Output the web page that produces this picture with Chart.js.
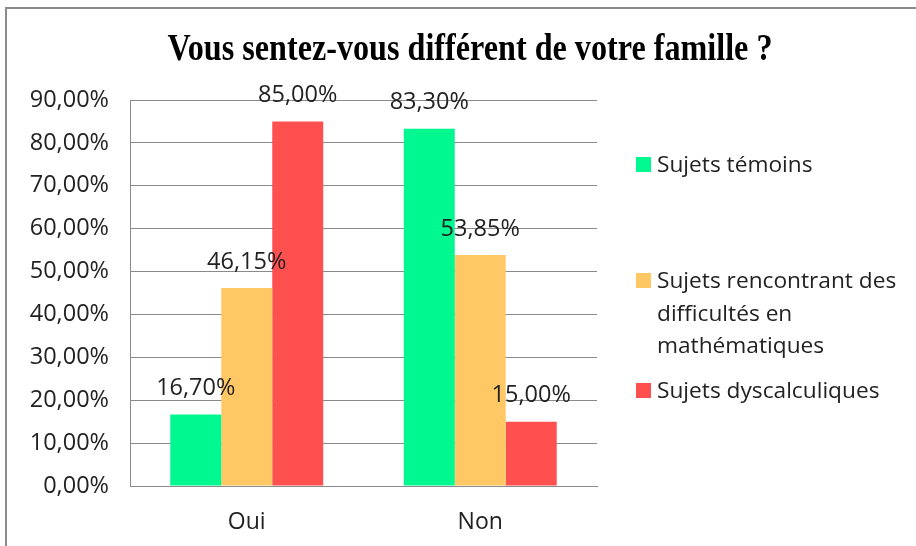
<!DOCTYPE html>
<html lang="fr">
<head>
  <meta charset="UTF-8" />
  <title>Vous sentez-vous différent de votre famille ?</title>
  <script src="https://cdn.jsdelivr.net/npm/chart.js"></script>
  <style>
    body {
      margin: 0;
      background: #ffffff;
      font-family: "Open Sans", sans-serif;
      overflow: hidden;
    }
    .wrap {
      position: relative;
      width: 916px;
      height: 546px;
    }
    .frame {
      position: absolute;
      left: 5px;
      top: 7px;
      width: 1000px;
      height: 700px;
      border-left: 2px solid #8a8a8a;
      border-top: 2px solid #8a8a8a;
    }
    canvas {
      position: absolute;
      left: 0;
      top: 0;
    }
    #legend {
      position: absolute;
      left: 636px;
      top: 0;
      width: 278px;
      color: #222;
      font-size: 22.7px;
      line-height: 32.5px;
    }
    .item {
      position: absolute;
      left: 0;
      display: flex;
      align-items: flex-start;
      white-space: nowrap;
    }
    .box {
      width: 15px;
      height: 15px;
      margin-top: 9px;
      margin-right: 6px;
      flex: none;
    }
  </style>
</head>
<body>
<div class="wrap">
  <div class="frame"></div>
  <canvas id="chart" width="916" height="546"></canvas>
  <div id="legend"></div>
</div>

<script>
// values (percent)
const categories = ['Oui', 'Non'];
const seriesNames = ['Sujets témoins', ['Sujets rencontrant des', 'difficultés en', 'mathématiques'], 'Sujets dyscalculiques'];
const temoins = [16.70, 83.30];
const difficultes = [46.15, 53.85];
const dyscalculiques = [85.00, 15.00];
const colors = ['#00f890', '#ffc865', '#ff5050'];
const chartTitle = 'Vous sentez-vous différent de votre famille ?';

const fmt = v => v.toFixed(2).replace('.', ',') + '%';
const labelFont = '23.5px "Open Sans"';

// title drawn condensed, like the original
const titlePlugin = {
  id: 'condensedTitle',
  afterDraw(chart) {
    const ctx = chart.ctx;
    ctx.save();
    ctx.font = 'bold 37px "Liberation Serif"';
    const w = ctx.measureText(chartTitle).width;
    const sx = 605 / w;
    ctx.translate(470, 50);
    ctx.scale(sx, 1);
    ctx.fillStyle = '#000';
    ctx.textAlign = 'center';
    ctx.textBaseline = 'middle';
    ctx.fillText(chartTitle, 0, 0);
    ctx.restore();
  }
};

// value labels above each bar
const valueLabels = {
  id: 'valueLabels',
  afterDatasetsDraw(chart) {
    const ctx = chart.ctx;
    ctx.save();
    ctx.font = labelFont;
    ctx.fillStyle = '#222';
    ctx.textAlign = 'center';
    ctx.textBaseline = 'middle';
    chart.data.datasets.forEach((ds, i) => {
      chart.getDatasetMeta(i).data.forEach((bar, j) => {
        ctx.fillText(fmt(ds.data[j]), bar.x, bar.y - 26);
      });
    });
    ctx.restore();
  }
};

const ctx = document.getElementById('chart').getContext('2d');
const chart = new Chart(ctx, {
  type: 'bar',
  data: {
    labels: categories,
    datasets: [
      { label: seriesNames[0], data: temoins, backgroundColor: colors[0] },
      { label: seriesNames[1], data: difficultes, backgroundColor: colors[1] },
      { label: seriesNames[2], data: dyscalculiques, backgroundColor: colors[2] }
    ]
  },
  options: {
    responsive: false,
    animation: false,
    layout: { padding: { top: 100, right: 319, left: 0, bottom: 0 } },
    datasets: {
      bar: { categoryPercentage: 0.655, barPercentage: 1 }
    },
    scales: {
      x: {
        afterFit: s => { s.height = 60; },
        grid: { display: false },
        border: { color: '#8a8a8a', width: 1 },
        ticks: { color: '#222', font: { family: 'Open Sans', size: 23 }, padding: 15 }
      },
      y: {
        min: 0,
        max: 90,
        afterFit: s => { s.width = 130; },
        ticks: {
          stepSize: 10,
          color: '#222',
          font: { family: 'Open Sans', size: 23.5 },
          padding: 21,
          callback: v => fmt(v)
        },
        grid: { color: '#8a8a8a', drawTicks: false },
        border: { color: '#8a8a8a', width: 1 }
      }
    },
    plugins: {
      legend: { display: false },
      title: { display: false },
      tooltip: { enabled: false }
    }
  },
  plugins: [titlePlugin, valueLabels]
});

// legend built from the chart's datasets
const legendTops = [148, 264, 374];
const legend = document.getElementById('legend');
chart.data.datasets.forEach((ds, i) => {
  const item = document.createElement('div');
  item.className = 'item';
  item.style.top = legendTops[i] + 'px';
  const text = [].concat(ds.label).join('<br>');
  item.innerHTML = '<span class="box" style="background:' + ds.backgroundColor + '"></span><span>' + text + '</span>';
  legend.appendChild(item);
});
</script>
</body>
</html>
